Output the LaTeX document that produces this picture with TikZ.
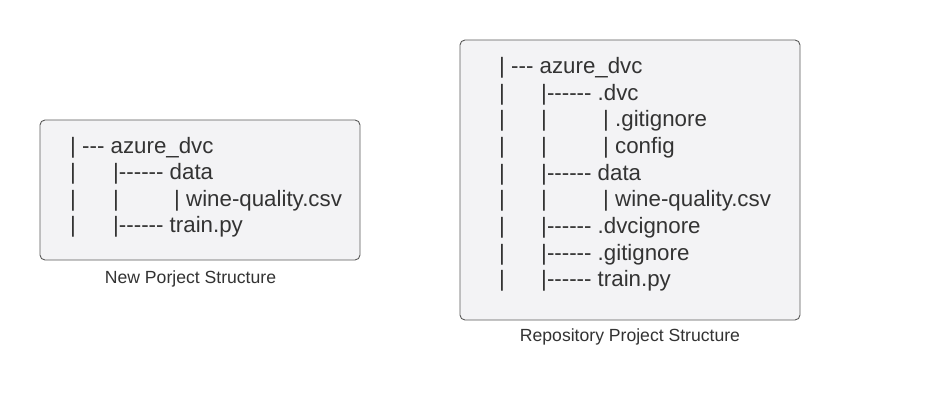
\documentclass[tikz,border=0pt]{standalone}
\usepackage{fontspec}
\setmainfont{Liberation Sans}
\definecolor{boxfill}{HTML}{F3F3F5}
\definecolor{boxline}{HTML}{5A5A5A}
\definecolor{txt}{HTML}{333333}
\newcommand\dd{-\kern0pt}
\newcommand\six{\dd\dd\dd\dd\dd\dd}
\newcommand\three{\dd\dd\dd}
\tikzset{
  panel/.style={draw=boxline, line width=0.9pt, fill=boxfill, rounded corners=5pt},
  ln/.style={anchor=base west, inner sep=0pt, text=txt, font=\fontsize{22.3}{26}\selectfont},
  captxt/.style={anchor=base, inner sep=0pt, text=txt, font=\fontsize{17.6}{21}\selectfont}
}
\begin{document}
\begin{tikzpicture}[x=1pt,y=-1pt]
\useasboundingbox (0,0) rectangle (930,400);
\fill[white] (0,0) rectangle (930,400);
% left panel
\draw[panel] (40,120) rectangle (360,260);
\node[ln] (l1a) at (70,153) {| \three{} azure\_dvc};
\node[ln] (l2a) at (70,179.5) {|};
\node[ln] (l2b) at (113,179.5) {|\six{} data};
\node[ln] (l3a) at (70,206) {|};
\node[ln] (l3b) at (113,206) {|};
\node[ln] (l3c) at (174,206) {| wine-quality.csv};
\node[ln] (l4a) at (70,232.5) {|};
\node[ln] (l4b) at (113,232.5) {|\six{} train.py};
\node[captxt] (lcap) at (190.5,283) {New Porject Structure};
% right panel
\draw[panel] (460,40) rectangle (800,320);
\node[ln] (r1a) at (499,73.3) {| \three{} azure\_dvc};
\node[ln] (r2a) at (499,100) {|};
\node[ln] (r2b) at (541,100) {|\six{} .dvc};
\node[ln] (r3a) at (499,126.7) {|};
\node[ln] (r3b) at (541,126.7) {|};
\node[ln] (r3c) at (603,126.7) {| .gitignore};
\node[ln] (r4a) at (499,153.4) {|};
\node[ln] (r4b) at (541,153.4) {|};
\node[ln] (r4c) at (603,153.4) {| config};
\node[ln] (r5a) at (499,180.1) {|};
\node[ln] (r5b) at (541,180.1) {|\six{} data};
\node[ln] (r6a) at (499,206.8) {|};
\node[ln] (r6b) at (541,206.8) {|};
\node[ln] (r6c) at (603,206.8) {| wine-quality.csv};
\node[ln] (r7a) at (499,233.5) {|};
\node[ln] (r7b) at (541,233.5) {|\six{} .dvcignore};
\node[ln] (r8a) at (499,260.2) {|};
\node[ln] (r8b) at (541,260.2) {|\six{} .gitignore};
\node[ln] (r9a) at (499,286.9) {|};
\node[ln] (r9b) at (541,286.9) {|\six{} train.py};
\node[captxt] (rcap) at (630,341.7) {Repository Project Structure};
\end{tikzpicture}
\end{document}
